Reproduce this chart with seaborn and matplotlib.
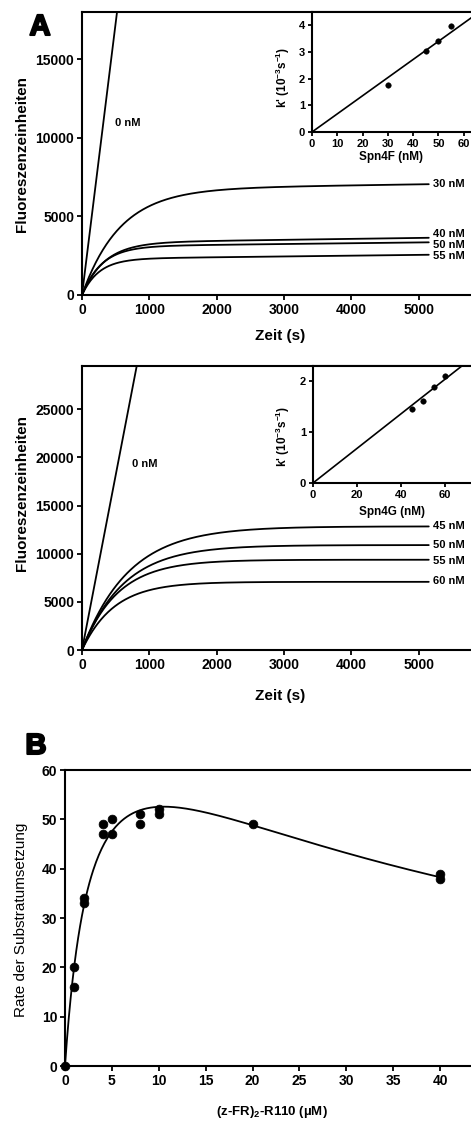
import numpy as np
import pandas as pd
import seaborn as sns
import matplotlib
matplotlib.use("Agg")
import matplotlib.pyplot as plt
import matplotlib.patheffects as pe

# ---- panel A (top): Spn4F progress curves
spn4f_conc = ["30 nM", "40 nM", "50 nM", "55 nM"]
spn4f_k = [1.78e-3, 3.0e-3, 3.42e-3, 3.96e-3]        # k' (1/s)
spn4f_amp = [6724, 3330, 3093, 2302]                 # burst amplitude
spn4f_drift = [0.063, 0.06, 0.05, 0.05]              # steady-state slope
spn4f_label_y = [7050, 3860, 3200, 2480]
spn4f_v0 = 34.6                                      # 0 nM slope

# inset A
spn4f_x = [30, 45, 50, 55]
spn4f_kobs = [1.78, 3.02, 3.42, 3.96]
spn4f_fit_slope = 0.068

# ---- panel A (middle): Spn4G progress curves
spn4g_conc = ["45 nM", "50 nM", "55 nM", "60 nM"]
spn4g_k = [1.45e-3, 1.62e-3, 1.89e-3, 2.10e-3]
spn4g_amp = [12840, 10900, 9375, 7080]
spn4g_drift = [0.0, 0.0, 0.0, 0.0]
spn4g_label_y = [12880, 10870, 9275, 7165]
spn4g_v0 = 36.3

# inset B
spn4g_x = [45, 50, 55, 60]
spn4g_kobs = [1.45, 1.62, 1.89, 2.10]
spn4g_fit_slope = 0.034

# ---- panel B: substrate inhibition
subst = [0, 1, 1, 2, 2, 4, 4, 5, 5, 8, 8, 10, 10, 20, 40, 40]
rate = [0, 20, 16, 34, 33, 49, 47, 50, 47, 51, 49, 52, 51, 49, 39, 38]
vmax, km, ki = 82.5, 3.0, 37.0

sns.set_theme(style="ticks")
plt.rcParams["font.family"] = ["Liberation Sans", "DejaVu Sans"]
plt.rcParams["font.weight"] = "bold"
plt.rcParams["mathtext.fontset"] = "custom"
plt.rcParams["mathtext.bf"] = "Liberation Sans:bold"
plt.rcParams["mathtext.rm"] = "Liberation Sans:bold"
plt.rcParams["axes.linewidth"] = 1.5
for key in ["text.color", "axes.labelcolor", "xtick.color", "ytick.color", "axes.edgecolor"]:
    plt.rcParams[key] = "black"

W, H = 471, 1122
fig = plt.figure(figsize=(W / 100, H / 100), dpi=100)


def box(l, r, t, b):
    return [l / W, 1 - b / H, (r - l) / W, (b - t) / H]


def style(ax, size=10, length=3.5):
    ax.tick_params(direction="out", length=length, width=1.3, labelsize=size, pad=2, colors="black")
    for lab in ax.get_xticklabels() + ax.get_yticklabels():
        lab.set_fontweight("bold")
    for s in ax.spines.values():
        s.set_visible(True)
        s.set_color("black")


def progress_panel(ax, names, ks, amps, drifts, label_y, v0, ymax, zero_pos):
    t = np.linspace(0, 5150, 400)
    rows = []
    for n, k, a, d in zip(names, ks, amps, drifts):
        rows.append(pd.DataFrame({"t": t, "F": a * (1 - np.exp(-k * t)) + d * t, "c": n}))
    t0 = np.array([0, ymax * 1.05 / v0])
    rows.append(pd.DataFrame({"t": t0, "F": v0 * t0, "c": "0 nM"}))
    df = pd.concat(rows)
    sns.lineplot(data=df, x="t", y="F", units="c", estimator=None, sort=False,
                 color="black", lw=1.3, ax=ax)
    for n, y in zip(names, label_y):
        ax.text(5210, y, n, fontsize=8, fontweight="bold", va="center", ha="left", clip_on=False)
    ax.text(zero_pos[0], zero_pos[1], "0 nM", fontsize=8, fontweight="bold", va="center")
    ax.set_xlim(0, 6000)
    ax.set_ylim(0, ymax)
    ax.set_xticks(range(0, 5001, 1000))
    ax.set_xlabel("Zeit (s)", fontsize=11, fontweight="bold")
    ax.set_ylabel("Fluoreszenzeinheiten", fontsize=11, fontweight="bold")
    style(ax)


def inset(ax, xs, ks, slope, xmax, ymax, xticks, yticks, xlabel):
    xl = np.array([0, xmax])
    sns.lineplot(x=xl, y=slope * xl, color="black", lw=1.2, ax=ax)
    sns.scatterplot(x=xs, y=ks, color="black", s=16, edgecolor="black", ax=ax, zorder=3)
    ax.set_xlim(0, xmax)
    ax.set_ylim(0, ymax)
    ax.set_xticks(xticks)
    ax.set_yticks(yticks)
    ax.set_xlabel(xlabel, fontsize=8.5, fontweight="bold", labelpad=0)
    ax.set_ylabel(r"k' (10$^{\mathbf{-3}}$s$^{\mathbf{-1}}$)", fontsize=8.5, fontweight="bold")
    ax.set_facecolor("white")
    style(ax, size=8, length=3)


# top panel
ax1 = fig.add_axes(box(82, 486, 12, 295))
progress_panel(ax1, spn4f_conc, spn4f_k, spn4f_amp, spn4f_drift, spn4f_label_y,
               spn4f_v0, 18000, (490, 10930))
ax1.set_yticks(range(0, 18001, 5000))
ax1.yaxis.set_label_coords(-0.131, 0.5)
ax1.xaxis.set_label_coords(0.49, -0.12)

ax1i = fig.add_axes(box(312, 489, 12, 132))
inset(ax1i, spn4f_x, spn4f_kobs, spn4f_fit_slope, 70, 4.5, range(0, 61, 10), range(0, 5),
      "Spn4F (nM)")
ax1i.yaxis.set_label_coords(-0.113, 0.454)
ax1i.xaxis.set_label_coords(0.445, -0.158)

# middle panel
ax2 = fig.add_axes(box(82, 486, 366, 650))
progress_panel(ax2, spn4g_conc, spn4g_k, spn4g_amp, spn4g_drift, spn4g_label_y,
               spn4g_v0, 29500, (743, 19280))
ax2.set_yticks(range(0, 29501, 5000))
ax2.yaxis.set_label_coords(-0.131, 0.553)
ax2.xaxis.set_label_coords(0.49, -0.137)

ax2i = fig.add_axes(box(313, 489, 366, 483))
inset(ax2i, spn4g_x, spn4g_kobs, spn4g_fit_slope, 80, 2.3, range(0, 61, 20), range(0, 3),
      "Spn4G (nM)")
ax2i.yaxis.set_label_coords(-0.119, 0.40)
ax2i.xaxis.set_label_coords(0.447, -0.194)

# bottom panel
ax3 = fig.add_axes(box(65, 487, 770, 1066))
s_fit = np.linspace(0, 40, 400)
v_fit = vmax * s_fit / (km + s_fit + s_fit ** 2 / ki)
sns.lineplot(x=s_fit, y=v_fit, color="black", lw=1.3, ax=ax3)
sns.scatterplot(x=subst, y=rate, color="black", s=40, edgecolor="black", ax=ax3,
                zorder=3, clip_on=False)
ax3.set_xlim(0, 45)
ax3.set_ylim(0, 60)
ax3.set_xticks(range(0, 41, 5))
ax3.set_yticks(range(0, 61, 10))
ax3.set_xlabel(r"(z-FR)$_{\mathbf{2}}$-R110 (µM)", fontsize=9.5, fontweight="bold")
ax3.set_ylabel("Rate der Substratumsetzung", fontsize=11, fontweight="normal")
ax3.yaxis.set_label_coords(-0.088, 0.493)
ax3.xaxis.set_label_coords(0.49, -0.128)
style(ax3)

for letter, x, y in [("A", 40, 27), ("B", 36, 746)]:
    fig.text(x / W, 1 - y / H, letter, fontsize=21, fontweight="bold", ha="center", va="center",
             color="black", path_effects=[pe.withStroke(linewidth=1.5, foreground="black")])

fig.savefig("out.png", dpi=100, facecolor="white")
